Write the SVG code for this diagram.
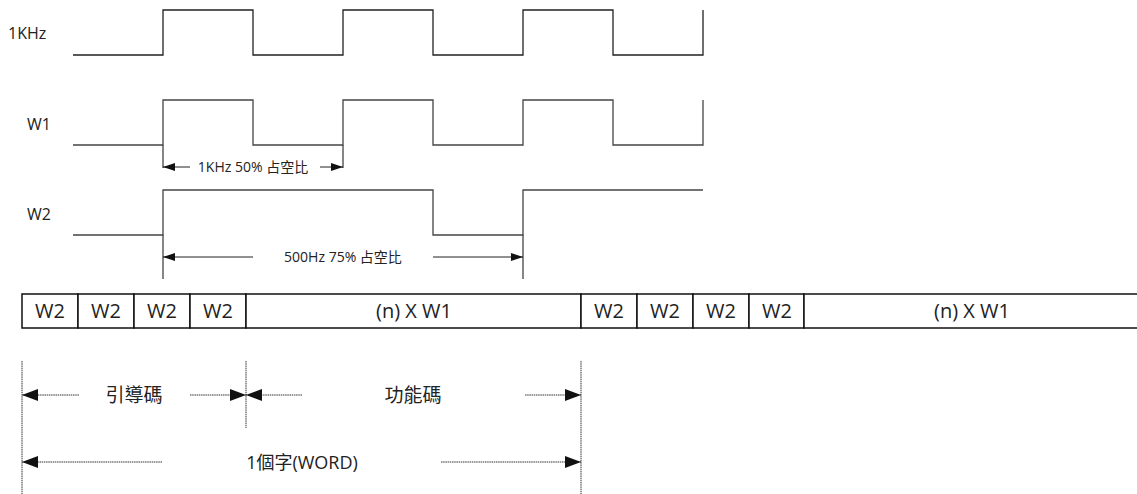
<svg xmlns="http://www.w3.org/2000/svg" width="1137" height="494" viewBox="0 0 1137 494">
<style>
.sig{fill:none;stroke:#222;stroke-width:1.3}
.sig2{fill:none;stroke:#444;stroke-width:1.3}
.dim{fill:none;stroke:#222;stroke-width:1}
.dot{fill:none;stroke:#333;stroke-width:1;stroke-dasharray:1.5 0.7}
.cell{fill:#fff;stroke:#111;stroke-width:1.5}
.lbl{font-family:"Open Sans","Noto Sans CJK TC",sans-serif;fill:#222}
.ah{fill:#111}
</style>
<defs>
<marker id="sa" markerUnits="userSpaceOnUse" markerWidth="12" markerHeight="8" refX="12" refY="4" orient="auto">
<path d="M0,0 L12,4 L0,8 Z" class="ah"/>
</marker>
<marker id="ba" markerUnits="userSpaceOnUse" markerWidth="16" markerHeight="12" refX="16" refY="6" orient="auto">
<path d="M0,0 L16,6 L0,12 Z" class="ah"/>
</marker>
</defs>

<g id="labels">
<text class="lbl" x="8" y="39" font-size="16">1KHz</text>
<text class="lbl" x="27" y="130" font-size="16">W1</text>
<text class="lbl" x="27" y="220" font-size="16">W2</text>
</g>

<g id="signals">
<path id="sig-1khz" class="sig" d="M73,55 H163 V10 H253 V55 H343 V10 H433 V55 H523 V10 H613 V55 H703 V10"/>
<path id="sig-w1" class="sig2" d="M73,145 H163 V100 H253 V145 H343 V100 H433 V145 H523 V100 H613 V145 H703 V100"/>
<path id="sig-w2" class="sig2" d="M73,235 H163 V190 H433 V235 H523 V190 H703"/>
</g>

<g id="connectors">
<line class="sig2" x1="163" y1="145" x2="163" y2="168"/>
<line class="sig2" x1="343" y1="145" x2="343" y2="168"/>
<line class="sig2" x1="163" y1="235" x2="163" y2="279"/>
<line class="sig2" x1="523" y1="235" x2="523" y2="279"/>
<line class="dim" x1="190" y1="167" x2="163" y2="167" marker-end="url(#sa)"/>
<line class="dim" x1="320" y1="167" x2="343" y2="167" marker-end="url(#sa)"/>
<line class="dim" x1="253" y1="257" x2="163" y2="257" marker-end="url(#sa)"/>
<line class="dim" x1="433" y1="257" x2="523" y2="257" marker-end="url(#sa)"/>
<line class="dot" x1="22" y1="361" x2="22" y2="494"/>
<line class="dot" x1="246" y1="361" x2="246" y2="428"/>
<line class="dot" x1="581" y1="361" x2="581" y2="494"/>
<line class="dot" x1="79" y1="395" x2="22" y2="395" marker-end="url(#ba)"/>
<line class="dot" x1="190" y1="395" x2="246" y2="395" marker-end="url(#ba)"/>
<line class="dot" x1="302" y1="395" x2="246" y2="395" marker-end="url(#ba)"/>
<line class="dot" x1="525" y1="395" x2="581" y2="395" marker-end="url(#ba)"/>
<line class="dot" x1="162" y1="462" x2="22" y2="462" marker-end="url(#ba)"/>
<line class="dot" x1="441" y1="462" x2="581" y2="462" marker-end="url(#ba)"/>
</g>

<g id="dim-labels">
<text class="lbl" x="253" y="172" font-size="14" text-anchor="middle">1KHz 50% 占空比</text>
<text class="lbl" x="343" y="262" font-size="14" text-anchor="middle">500Hz 75% 占空比</text>
<text class="lbl" x="134" y="402" font-size="19" text-anchor="middle" fill="#333">引導碼</text>
<text class="lbl" x="413" y="402" font-size="19" text-anchor="middle" fill="#333">功能碼</text>
<text class="lbl" x="302" y="469" font-size="18" text-anchor="middle" fill="#333">1個字(WORD)</text>
</g>

<g id="bar">
<g id="c1"><rect class="cell" x="22" y="294" width="56" height="34"/><text class="lbl" x="50" y="318" font-size="20" text-anchor="middle">W2</text></g>
<g id="c2"><rect class="cell" x="78" y="294" width="56" height="34"/><text class="lbl" x="106" y="318" font-size="20" text-anchor="middle">W2</text></g>
<g id="c3"><rect class="cell" x="134" y="294" width="56" height="34"/><text class="lbl" x="162" y="318" font-size="20" text-anchor="middle">W2</text></g>
<g id="c4"><rect class="cell" x="190" y="294" width="56" height="34"/><text class="lbl" x="218" y="318" font-size="20" text-anchor="middle">W2</text></g>
<g id="c5"><rect class="cell" x="246" y="294" width="335" height="34"/><text class="lbl" x="414" y="318" font-size="20" text-anchor="middle">(n) X W1</text></g>
<g id="c6"><rect class="cell" x="581" y="294" width="56" height="34"/><text class="lbl" x="609" y="318" font-size="20" text-anchor="middle">W2</text></g>
<g id="c7"><rect class="cell" x="637" y="294" width="56" height="34"/><text class="lbl" x="665" y="318" font-size="20" text-anchor="middle">W2</text></g>
<g id="c8"><rect class="cell" x="693" y="294" width="56" height="34"/><text class="lbl" x="721" y="318" font-size="20" text-anchor="middle">W2</text></g>
<g id="c9"><rect class="cell" x="749" y="294" width="55" height="34"/><text class="lbl" x="777" y="318" font-size="20" text-anchor="middle">W2</text></g>
<g id="c10"><rect class="cell" x="804" y="294" width="340" height="34"/><text class="lbl" x="972" y="318" font-size="20" text-anchor="middle">(n) X W1</text></g>
</g>
</svg>
